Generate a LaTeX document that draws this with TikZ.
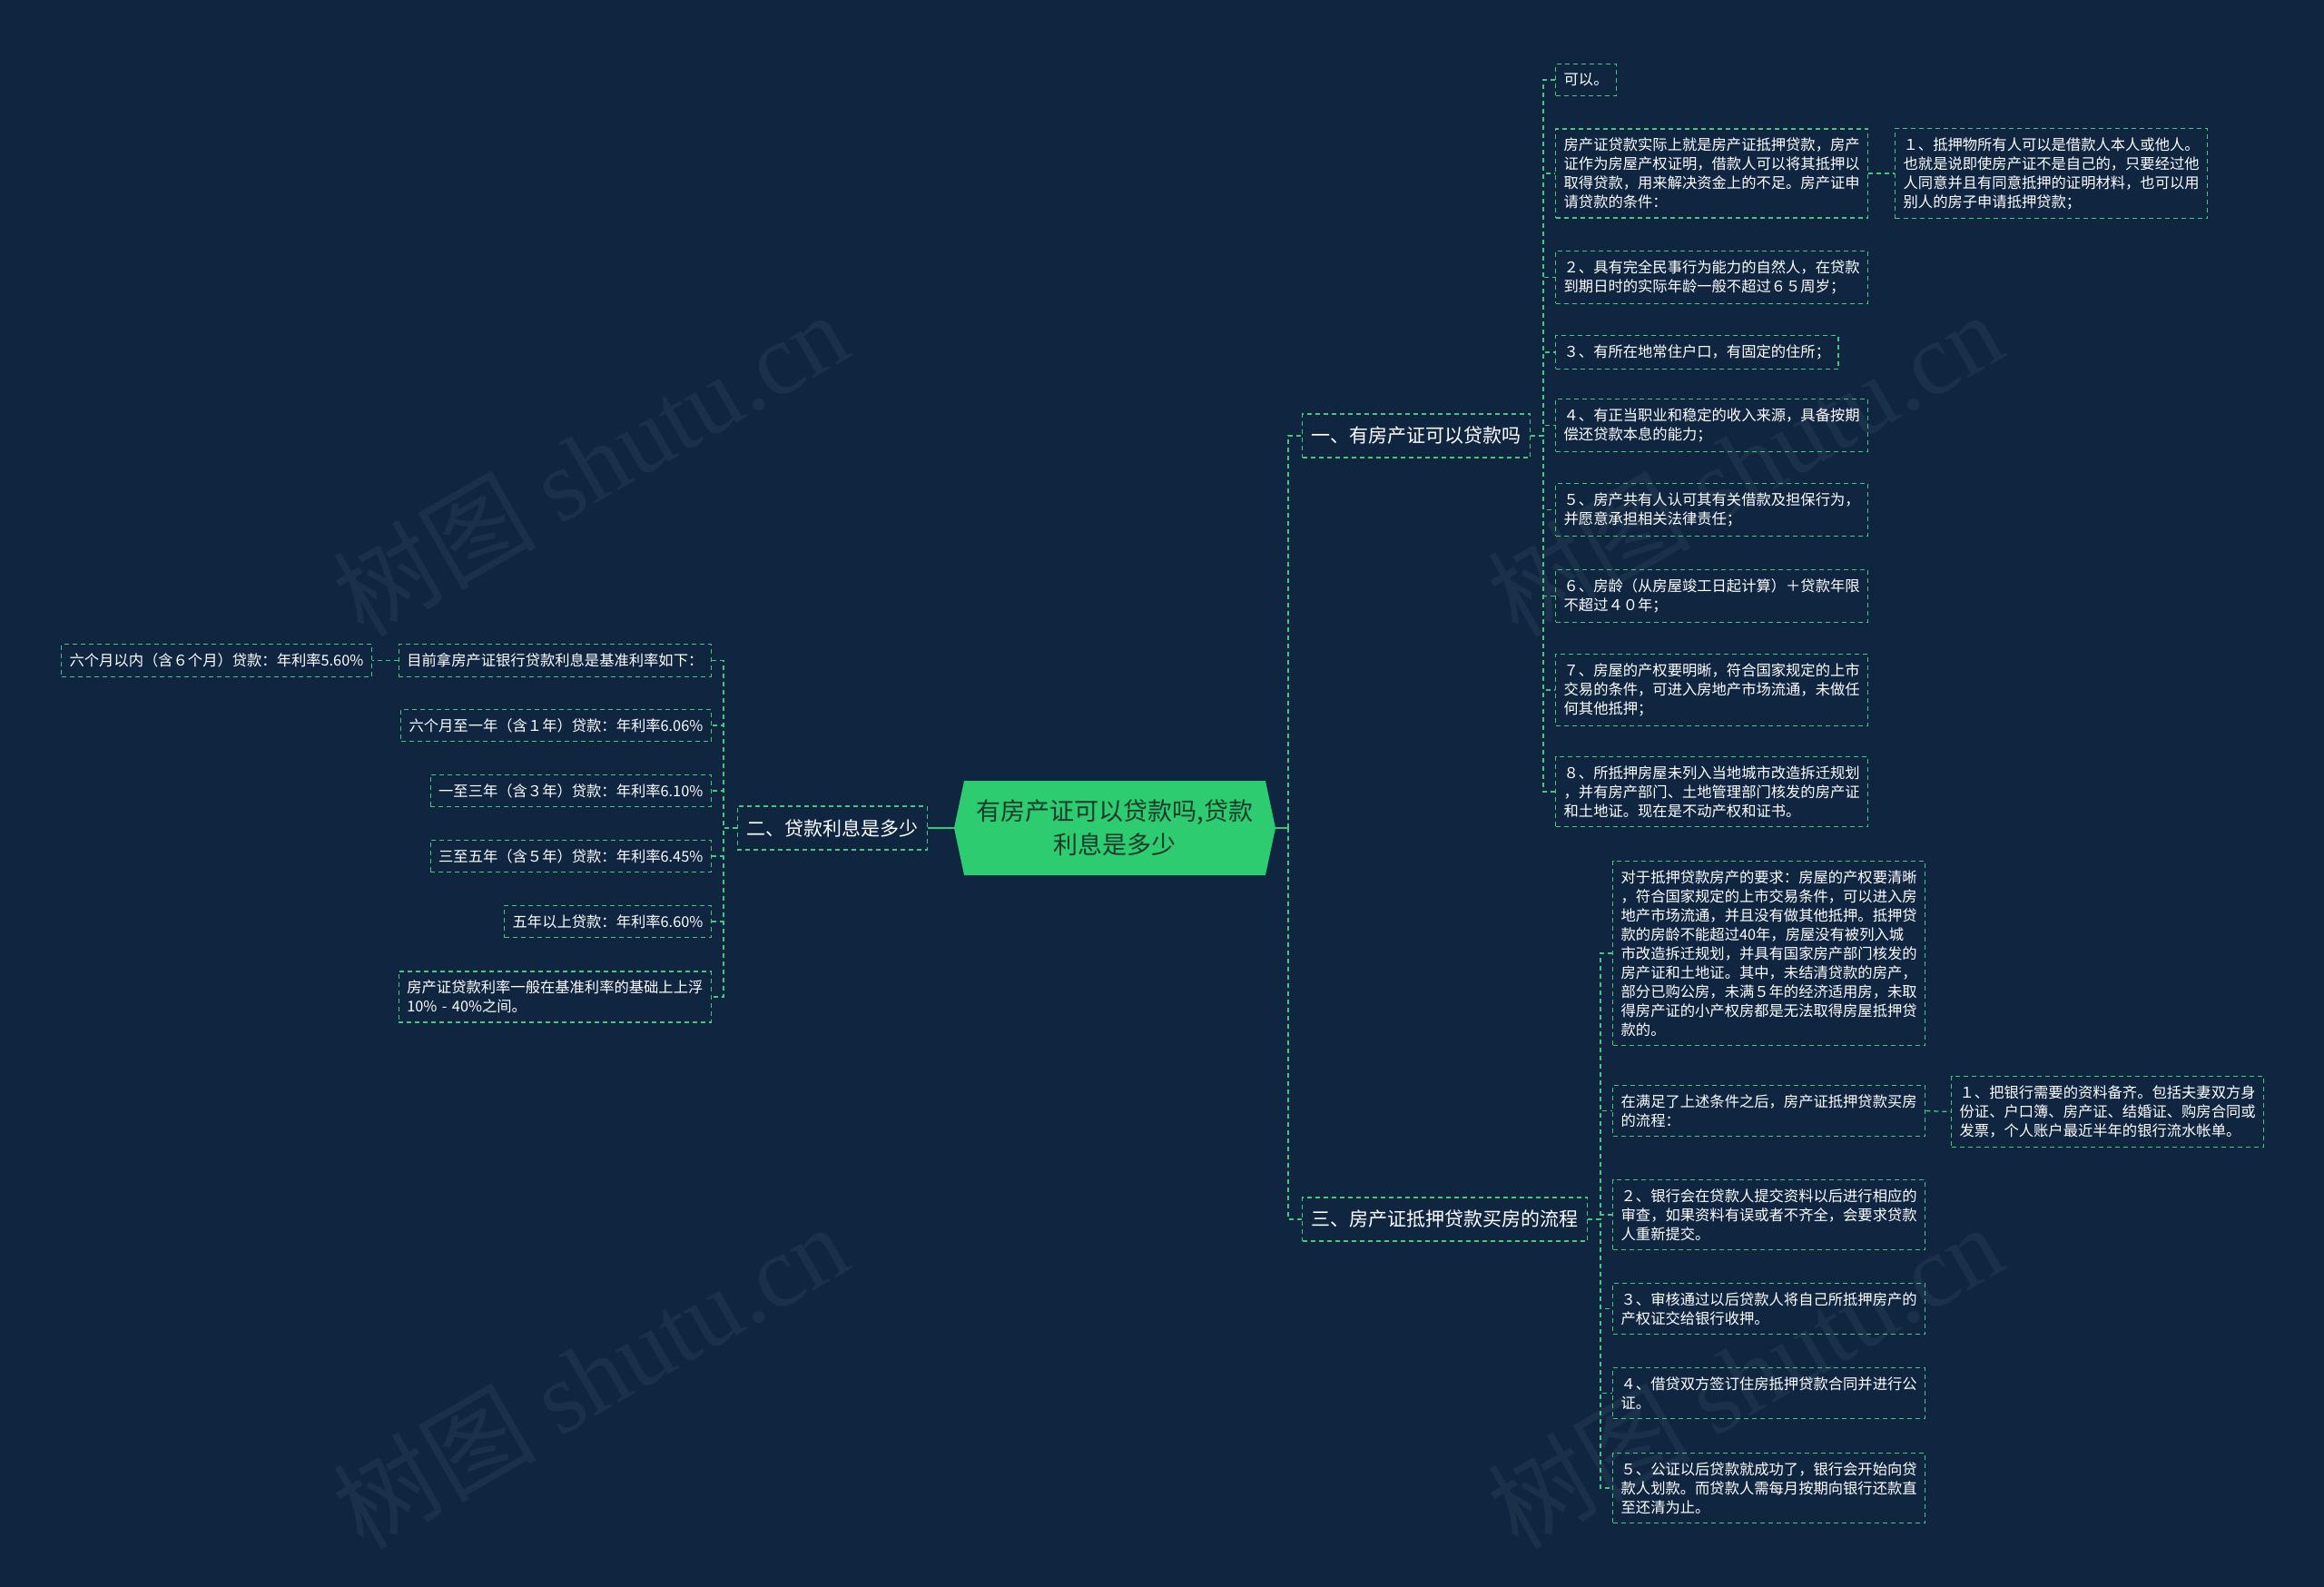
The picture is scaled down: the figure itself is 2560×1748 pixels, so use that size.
\documentclass[tikz,border=0pt]{standalone}
\usepackage{fontspec}
\setmainfont{Noto Sans CJK SC}
\newfontfamily\wmserif{Liberation Serif}
\usepackage{tikz}
\usetikzlibrary{shapes.symbols,positioning}
\definecolor{bgnavy}{RGB}{15,37,64}
\definecolor{mint}{RGB}{72,199,128}
\definecolor{rootgreen}{RGB}{46,204,113}
\definecolor{rootink}{RGB}{24,58,42}

\begin{document}
\begin{tikzpicture}[x=1pt, y=-1pt,
    rootnode/.style={signal, signal to=east and west, signal pointer angle=156,
                     fill=rootgreen, text=rootink, align=center,
                     font=\fontsize{27}{37}\selectfont,
                     minimum width=354pt, minimum height=104pt, inner sep=0pt},
    boxline/.style={draw=mint, dash pattern=on 5pt off 4pt, line width=1.3pt},
    branch/.style={boxline, text=white, font=\fontsize{21}{26}\selectfont,
                   inner xsep=10pt, minimum height=48pt},
    leaf/.style={boxline, text=white, align=left,
                 font=\fontsize{16.3}{21}\selectfont,
                 inner xsep=9pt, inner ysep=10pt},
    wideleaf/.style={leaf, text width=326pt},
    link/.style={mint, dash pattern=on 5pt off 4pt, line width=1.3pt},
    rootlink/.style={rootgreen, line width=2pt},
    watermark/.style={text=white, opacity=0.05, rotate=30,
                      font=\fontsize{112}{112}\selectfont},
  ]
  \useasboundingbox (0,0) rectangle (2560,1748);
  \fill[bgnavy] (0,0) rectangle (2560,1748);
  %% Watermarks
  \foreach \i/\wx/\wy in {1/650/510, 2/1922/510, 3/650/1515, 4/1922/1515}{
    \node[watermark] (wm\i) at (\wx,\wy) {树图 {\wmserif shutu.cn}};
  }
  %% Central topic
  \node[rootnode] (root) at (1228,912) {有房产证可以贷款吗,贷款\\利息是多少};
  %% Main branches
  \node[branch, anchor=west] (q1) at (1434,480)  {一、有房产证可以贷款吗};
  \node[branch, anchor=east] (q2) at (1022,912)  {二、贷款利息是多少};
  \node[branch, anchor=west] (q3) at (1434,1343) {三、房产证抵押贷款买房的流程};
  \coordinate (rhub) at (1419,912);
  \draw[rootlink] (root.east) -- (rhub);
  \draw[rootlink] (root.west) -- (q2.east);
  \draw[link] (rhub) |- (q1.west);
  \draw[link] (rhub) |- (q3.west);
  %% Branch 1: conditions
  \node[leaf, anchor=west] (cond1) at (1713,88) {可以。};
  \node[wideleaf, anchor=west] (cond2) at (1713,191)
    {房产证贷款实际上就是房产证抵押贷款，房产\\证作为房屋产权证明，借款人可以将其抵押以\\取得贷款，用来解决资金上的不足。房产证申\\请贷款的条件：};
  \node[wideleaf, anchor=west] (cond2x) at (2087,191)
    {１、抵押物所有人可以是借款人本人或他人。\\也就是说即使房产证不是自己的，只要经过他\\人同意并且有同意抵押的证明材料，也可以用\\别人的房子申请抵押贷款；};
  \node[wideleaf, anchor=west] (cond3) at (1713,305.5)
    {２、具有完全民事行为能力的自然人，在贷款\\到期日时的实际年龄一般不超过６５周岁；};
  \node[leaf, anchor=west] (cond4) at (1713,388) {３、有所在地常住户口，有固定的住所；};
  \node[wideleaf, anchor=west] (cond5) at (1713,468.5)
    {４、有正当职业和稳定的收入来源，具备按期\\偿还贷款本息的能力；};
  \node[wideleaf, anchor=west] (cond6) at (1713,561.5)
    {５、房产共有人认可其有关借款及担保行为，\\并愿意承担相关法律责任；};
  \node[wideleaf, anchor=west] (cond7) at (1713,656.5)
    {６、房龄（从房屋竣工日起计算）＋贷款年限\\不超过４０年；};
  \node[wideleaf, anchor=west] (cond8) at (1713,760)
    {７、房屋的产权要明晰，符合国家规定的上市\\交易的条件，可进入房地产市场流通，未做任\\何其他抵押；};
  \node[wideleaf, anchor=west] (cond9) at (1713,872)
    {８、所抵押房屋未列入当地城市改造拆迁规划\\，并有房产部门、土地管理部门核发的房产证\\和土地证。现在是不动产权和证书。};
  \coordinate (hub1) at (1700,480);
  \foreach \i in {1,...,9}{
    \draw[link] (q1.east) -- (hub1) |- (cond\i.west);
  }
  \draw[link] (cond2.east) -- (cond2x.west);
  %% Branch 2: rates
  \node[leaf, anchor=east] (rate1) at (784,727.5) {目前拿房产证银行贷款利息是基准利率如下：};
  \node[leaf, anchor=east] (rate1x) at (410,727.5) {六个月以内（含６个月）贷款：年利率5.60\%};
  \node[leaf, anchor=east] (rate2) at (784,799) {六个月至一年（含１年）贷款：年利率6.06\%};
  \node[leaf, anchor=east] (rate3) at (784,871) {一至三年（含３年）贷款：年利率6.10\%};
  \node[leaf, anchor=east] (rate4) at (784,943) {三至五年（含５年）贷款：年利率6.45\%};
  \node[leaf, anchor=east] (rate5) at (784,1015) {五年以上贷款：年利率6.60\%};
  \node[wideleaf, anchor=east] (rate6) at (784,1098)
    {房产证贷款利率一般在基准利率的基础上上浮\\10\% - 40\%之间。};
  \coordinate (hub2) at (797,912);
  \foreach \i in {1,...,6}{
    \draw[link] (q2.west) -- (hub2) |- (rate\i.east);
  }
  \draw[link] (rate1.west) -- (rate1x.east);
  %% Branch 3: procedure
  \node[wideleaf, anchor=west] (step1) at (1776,1050)
    {对于抵押贷款房产的要求：房屋的产权要清晰\\，符合国家规定的上市交易条件，可以进入房\\地产市场流通，并且没有做其他抵押。抵押贷\\款的房龄不能超过40年，房屋没有被列入城\\市改造拆迁规划，并具有国家房产部门核发的\\房产证和土地证。其中，未结清贷款的房产，\\部分已购公房，未满５年的经济适用房，未取\\得房产证的小产权房都是无法取得房屋抵押贷\\款的。};
  \node[wideleaf, anchor=west] (step2) at (1776,1223.5)
    {在满足了上述条件之后，房产证抵押贷款买房\\的流程：};
  \node[wideleaf, anchor=west] (step2x) at (2149,1224.5)
    {１、把银行需要的资料备齐。包括夫妻双方身\\份证、户口簿、房产证、结婚证、购房合同或\\发票，个人账户最近半年的银行流水帐单。};
  \node[wideleaf, anchor=west] (step3) at (1776,1338)
    {２、银行会在贷款人提交资料以后进行相应的\\审查，如果资料有误或者不齐全，会要求贷款\\人重新提交。};
  \node[wideleaf, anchor=west] (step4) at (1776,1441.5)
    {３、审核通过以后贷款人将自己所抵押房产的\\产权证交给银行收押。};
  \node[wideleaf, anchor=west] (step5) at (1776,1534.5)
    {４、借贷双方签订住房抵押贷款合同并进行公\\证。};
  \node[wideleaf, anchor=west] (step6) at (1776,1639)
    {５、公证以后贷款就成功了，银行会开始向贷\\款人划款。而贷款人需每月按期向银行还款直\\至还清为止。};
  \coordinate (hub3) at (1763,1343);
  \foreach \i in {1,...,6}{
    \draw[link] (q3.east) -- (hub3) |- (step\i.west);
  }
  \draw[link] (step2.east) -- (step2x.west);
\end{tikzpicture}
\end{document}
